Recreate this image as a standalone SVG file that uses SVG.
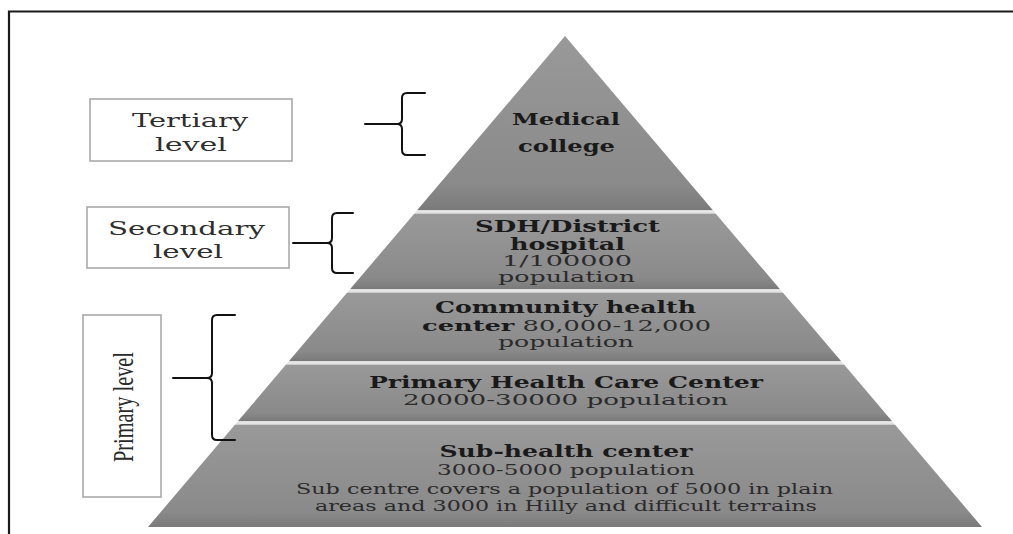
<svg xmlns="http://www.w3.org/2000/svg" width="1013" height="534" viewBox="0 0 1013 534">
  <defs>
    <linearGradient id="tierGrad" x1="0" y1="0" x2="0" y2="1">
      <stop offset="0" stop-color="#999999"/>
      <stop offset="0.85" stop-color="#8a8a8a"/>
      <stop offset="1" stop-color="#7a7a7a"/>
    </linearGradient>
    <linearGradient id="sepGrad" x1="0" y1="0" x2="0" y2="1">
      <stop offset="0" stop-color="#d9d9d9"/>
      <stop offset="0.5" stop-color="#ececec"/>
      <stop offset="1" stop-color="#c4c4c4"/>
    </linearGradient>
    <style>
      .tier { fill: url(#tierGrad); }
      .sep { fill: url(#sepGrad); }
      .box { fill: #ffffff; stroke: #a9a9a9; stroke-width: 1.6; }
      .brace { fill: none; stroke: #111111; stroke-width: 2; stroke-linecap: round; stroke-linejoin: round; }
      .lbl { font-family: "DejaVu Serif", "Liberation Serif", serif; font-size: 19px; fill: #2e2e2e; text-anchor: middle; }
      .ttl { font-family: "DejaVu Serif", "Liberation Serif", serif; font-size: 16.5px; font-weight: bold; fill: #1a1a1a; text-anchor: middle; }
      .sub { font-family: "DejaVu Serif", "Liberation Serif", serif; font-size: 15.5px; fill: #2a2a2a; text-anchor: middle; }
      .b { font-weight: bold; fill: #1a1a1a; }
      .frame { stroke: #1a1a1a; stroke-width: 2.2; fill: none; }
    </style>
  </defs>

  <rect x="0" y="0" width="1013" height="534" fill="#ffffff"/>
  <path class="frame" d="M 9 534 L 9 11.5 L 1013 11.5"/>

  <!-- Pyramid tiers -->
  <g id="tier-medical-college">
    <polygon class="tier" points="565,36 712.7,210 417.3,210"/>
    <text class="ttl" x="566" y="125" textLength="108" lengthAdjust="spacingAndGlyphs">Medical</text>
    <text class="ttl" x="566.5" y="152" textLength="97" lengthAdjust="spacingAndGlyphs">college</text>
  </g>
  <g id="tier-district-hospital">
    <polygon class="sep" points="417.3,210 712.7,210 716,214 414,214"/>
    <polygon class="tier" points="414,214 716,214 779.8,289 350.2,289"/>
    <text class="ttl" x="567.5" y="232" textLength="185" lengthAdjust="spacingAndGlyphs">SDH/District</text>
    <text class="ttl" x="567.5" y="250" textLength="115" lengthAdjust="spacingAndGlyphs">hospital</text>
    <text class="sub" x="567" y="266" textLength="130" lengthAdjust="spacingAndGlyphs">1/100000</text>
    <text class="sub" x="566.5" y="282" textLength="137" lengthAdjust="spacingAndGlyphs">population</text>
  </g>
  <g id="tier-community-health-center">
    <polygon class="sep" points="350.2,289 779.8,289 783.2,293 346.8,293"/>
    <polygon class="tier" points="346.8,293 783.2,293 841,361 289,361"/>
    <text class="ttl" x="565.5" y="313" textLength="261" lengthAdjust="spacingAndGlyphs">Community health</text>
    <text class="sub" x="566.5" y="331" textLength="289" lengthAdjust="spacingAndGlyphs"><tspan class="b">center</tspan> 80,000-12,000</text>
    <text class="sub" x="566" y="347" textLength="136" lengthAdjust="spacingAndGlyphs">population</text>
  </g>
  <g id="tier-primary-health-care-center">
    <polygon class="sep" points="289,361 841,361 844.4,365 285.6,365"/>
    <polygon class="tier" points="285.6,365 844.4,365 891.9,421 238.1,421"/>
    <text class="ttl" x="566" y="388" textLength="394" lengthAdjust="spacingAndGlyphs">Primary Health Care Center</text>
    <text class="sub" x="565.5" y="405" textLength="325" lengthAdjust="spacingAndGlyphs">20000-30000 population</text>
  </g>
  <g id="tier-sub-health-center">
    <polygon class="sep" points="238.1,421 891.9,421 895.3,425 234.7,425"/>
    <polygon class="tier" points="234.7,425 895.3,425 982,527 148,527"/>
    <text class="ttl" x="566" y="457" textLength="253" lengthAdjust="spacingAndGlyphs" style="font-size:17px">Sub-health center</text>
    <text class="sub" x="566" y="475" textLength="258" lengthAdjust="spacingAndGlyphs">3000-5000 population</text>
    <text class="sub" x="564.5" y="494" textLength="537" lengthAdjust="spacingAndGlyphs">Sub centre covers a population of 5000 in plain</text>
    <text class="sub" x="566" y="511" textLength="502" lengthAdjust="spacingAndGlyphs">areas and 3000 in Hilly and difficult terrains</text>
  </g>

  <!-- Level boxes -->
  <g id="box-tertiary">
    <rect class="box" x="90" y="99" width="202" height="62"/>
    <text class="lbl" x="190" y="127" textLength="116" lengthAdjust="spacingAndGlyphs">Tertiary</text>
    <text class="lbl" x="191" y="151" textLength="72" lengthAdjust="spacingAndGlyphs">level</text>
  </g>
  <g id="box-secondary">
    <rect class="box" x="87" y="207" width="202" height="61"/>
    <text class="lbl" x="186.5" y="235" textLength="157" lengthAdjust="spacingAndGlyphs">Secondary</text>
    <text class="lbl" x="188" y="258" textLength="70" lengthAdjust="spacingAndGlyphs">level</text>
  </g>
  <g id="box-primary">
    <rect class="box" x="83" y="315" width="78" height="182"/>
    <text transform="translate(133,407) rotate(-90)" x="0" y="0" textLength="110" lengthAdjust="spacingAndGlyphs" style="font-family:'Liberation Serif', serif; font-size:30px; fill:#2a2a2a; text-anchor:middle">Primary level</text>
  </g>

  <!-- Connectors (braces) -->
  <g id="connectors">
    <path class="brace" d="M 365 124 L 397 124 M 425 93 L 407 93 Q 402 93 402 98 L 402 119 Q 402 124 397 124 Q 402 124 402 129 L 402 150 Q 402 155 407 155 L 425 155"/>
    <path class="brace" d="M 293 243 L 327 243 M 353 213 L 337 213 Q 332 213 332 218 L 332 238 Q 332 243 327 243 Q 332 243 332 248 L 332 268 Q 332 273 337 273 L 353 273"/>
    <path class="brace" d="M 173 378 L 207 378 M 235 315 L 217 315 Q 212 315 212 320 L 212 373 Q 212 378 207 378 Q 212 378 212 383 L 212 435 Q 212 440 217 440 L 235 440"/>
  </g>
</svg>
